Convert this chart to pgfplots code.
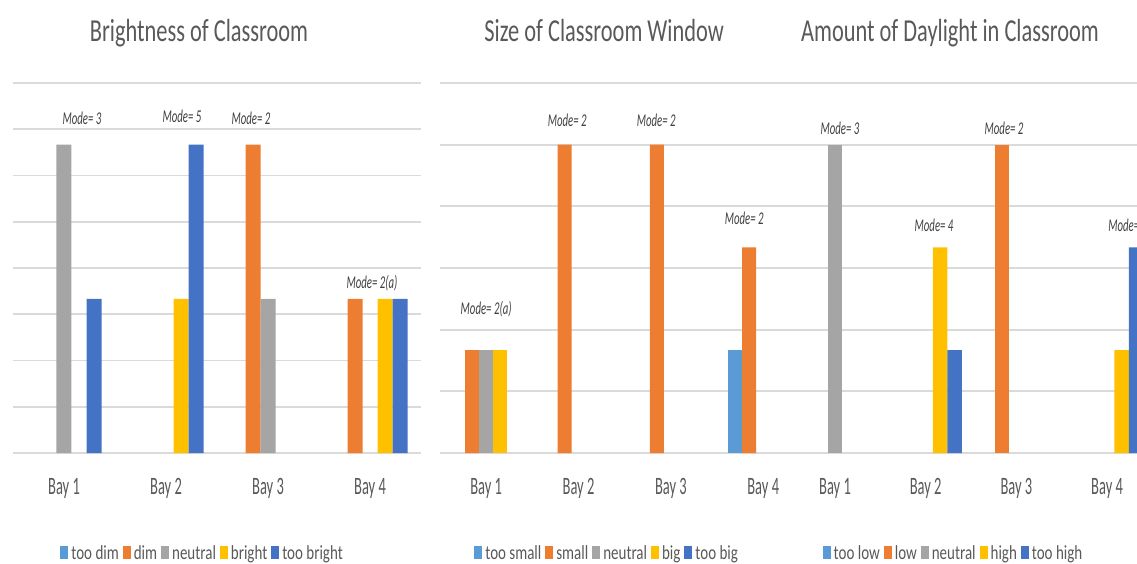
\documentclass[border=0pt]{standalone}
\usepackage{fontspec}
\setmainfont{Carlito}
\newfontfamily\titlefont[FakeStretch=0.70]{Carlito}
\newfontfamily\labfont[FakeStretch=0.58]{Carlito}
\newfontfamily\legfont[FakeStretch=0.75]{Carlito}
\newfontfamily\modefont[FakeStretch=0.60]{Carlito}
\usepackage{pgfplots}
\pgfplotsset{compat=1.18}

\definecolor{c1}{HTML}{5B9BD5}
\definecolor{c2}{HTML}{ED7D31}
\definecolor{c3}{HTML}{A5A5A5}
\definecolor{c4}{HTML}{FFC000}
\definecolor{c5}{HTML}{4472C4}
\definecolor{gridc}{HTML}{DADADA}
\definecolor{txt}{HTML}{595959}
\definecolor{modec}{HTML}{404040}

\tikzset{modenode/.style={font=\modefont\itshape\fontsize{18}{18}\selectfont, text=modec, inner sep=0pt}}

\pgfplotsset{
  panel/.style={
    scale only axis, anchor=south west,
    ybar=0pt, clip=false,
    enlargelimits=false,
    ymin=0,
    axis line style={draw=none},
    major tick length=0pt,
    ymajorgrids, grid style={gridc, line width=1.8pt},
    yticklabels={},
    xtick={0,1,2,3},
    xticklabels={Bay 1,Bay 2,Bay 3,Bay 4},
    xticklabel style={font=\labfont\fontsize{25}{25}\selectfont, text=txt, anchor=base, yshift=-41pt},
    every axis plot/.append style={draw=none, forget plot, restrict y to domain=0.5:100},
    legend image code/.code={\fill[##1] (0pt,-6pt) rectangle (8pt,7pt);},
    legend style={legend columns=5, draw=none, fill=none, anchor=center,
      font=\legfont\fontsize{20}{20}\selectfont, text=txt,
      nodes={inner xsep=3pt, inner ysep=0pt},
      /tikz/every even column/.append style={column sep=1pt}},
  },
  ttl/.style={every axis title/.style={font=\titlefont\fontsize{32}{32}\selectfont,
      text=txt, anchor=base, at={(#1,1)}, yshift=42pt}},
}

\begin{document}
\begin{tikzpicture}
\path[use as bounding box, clip] (0pt,0pt) rectangle (1137pt,563pt);

% Panel 1
\begin{axis}[panel, at={(13pt,110pt)}, width=408pt, height=370pt,
  xmin=-0.5, xmax=3.5, ymax=2.4, ytick distance=0.3, bar width=15pt,
  title={Brightness of Classroom}, ttl=0.456,
  legend style={at={(0.466,-0.27)}}]
\addlegendimage{fill=c1}
\addlegendimage{fill=c2}
\addlegendimage{fill=c3}
\addlegendimage{fill=c4}
\addlegendimage{fill=c5}
\addplot[fill=c1, bar shift=-30pt] coordinates {(0,0) (1,0) (2,0) (3,0)};
\addplot[fill=c2, bar shift=-15pt] coordinates {(0,0) (1,0) (2,2) (3,1)};
\addplot[fill=c3, bar shift=0pt]   coordinates {(0,2) (1,0) (2,1) (3,0)};
\addplot[fill=c4, bar shift=15pt]  coordinates {(0,0) (1,1) (2,0) (3,1)};
\addplot[fill=c5, bar shift=30pt]  coordinates {(0,1) (1,2) (2,0) (3,1)};
\legend{too dim, dim, neutral, bright, too bright}
\node[modenode] at (axis cs:0.176,2.172) {Mode= 3};
\node[modenode] at (axis cs:1.157,2.185) {Mode= 5};
\node[modenode] at (axis cs:1.833,2.172) {Mode= 2};
\node[modenode] at (axis cs:3.02,1.099) {Mode= 2(a)};
\end{axis}

% Panel 2
\begin{axis}[panel, at={(440pt,110pt)}, width=350pt, height=370pt,
  xmin=-0.5, xmax=3.29, ymax=3.6, ytick distance=0.6, bar width=14pt,
  title={Size of Classroom Window}, ttl=0.469,
  legend style={at={(0.479,-0.27)}}]
\addlegendimage{fill=c1}
\addlegendimage{fill=c2}
\addlegendimage{fill=c3}
\addlegendimage{fill=c4}
\addlegendimage{fill=c5}
\addplot[fill=c1, bar shift=-28pt] coordinates {(0,0) (1,0) (2,0) (3,1)};
\addplot[fill=c2, bar shift=-14pt] coordinates {(0,1) (1,3) (2,3) (3,2)};
\addplot[fill=c3, bar shift=0pt]   coordinates {(0,1) (1,0) (2,0) (3,0)};
\addplot[fill=c4, bar shift=14pt]  coordinates {(0,1) (1,0) (2,0) (3,0)};
\addplot[fill=c5, bar shift=28pt]  coordinates {(0,0) (1,0) (2,0) (3,0)};
\legend{too small, small, neutral, big, too big}
\node[modenode] at (axis cs:0,1.401) {Mode= 2(a)};
\node[modenode] at (axis cs:0.877,3.240) {Mode= 2};
\node[modenode] at (axis cs:1.841,3.240) {Mode= 2};
\node[modenode] at (axis cs:2.794,2.287) {Mode= 2};
\end{axis}

% Panel 3
\begin{axis}[panel, at={(789.7pt,110pt)}, width=362.7pt, height=370pt,
  xmin=-0.5, xmax=3.5, ymax=3.6, ytick distance=0.6, bar width=14.5pt,
  title={Amount of Daylight in Classroom}, ttl=0.442,
  legend style={at={(0.453,-0.27)}}]
\addlegendimage{fill=c1}
\addlegendimage{fill=c2}
\addlegendimage{fill=c3}
\addlegendimage{fill=c4}
\addlegendimage{fill=c5}
\addplot[fill=c1, bar shift=-29pt]   coordinates {(0,0) (1,0) (2,0) (3,0)};
\addplot[fill=c2, bar shift=-14.5pt] coordinates {(0,0) (1,0) (2,3) (3,0)};
\addplot[fill=c3, bar shift=0pt]     coordinates {(0,3) (1,0) (2,0) (3,0)};
\addplot[fill=c4, bar shift=14.5pt]  coordinates {(0,0) (1,2) (2,0) (3,1)};
\addplot[fill=c5, bar shift=29pt]    coordinates {(0,0) (1,1) (2,0) (3,2)};
\legend{too low, low, neutral, high, too high}
\node[modenode] at (axis cs:0.055,3.162) {Mode= 3};
\node[modenode] at (axis cs:1.092,2.218) {Mode= 4};
\node[modenode] at (axis cs:1.864,3.162) {Mode= 2};
\node[modenode, anchor=west] at (axis cs:3.011,2.218) {Mode= 2};
\end{axis}
\end{tikzpicture}
\end{document}
